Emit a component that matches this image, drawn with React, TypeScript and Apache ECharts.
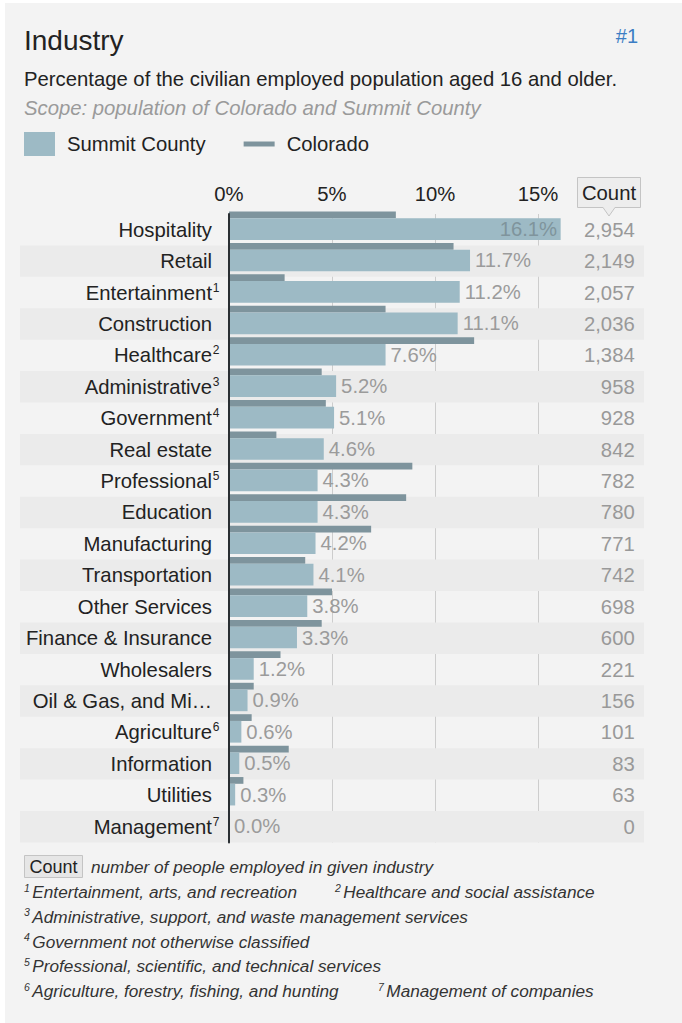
import React, { useEffect, useRef } from "react";
import * as echarts from "echarts";

const categories = [
  "Hospitality", "Retail", "Entertainment", "Construction", "Healthcare",
  "Administrative", "Government", "Real estate", "Professional", "Education",
  "Manufacturing", "Transportation", "Other Services", "Finance & Insurance",
  "Wholesalers", "Oil & Gas, and Mi…", "Agriculture", "Information", "Utilities", "Management",
];
const superscripts = ["", "", "1", "", "2", "3", "4", "", "5", "", "", "", "", "", "", "", "6", "", "", "7"];
const summitPct = [16.1, 11.7, 11.2, 11.1, 7.6, 5.2, 5.1, 4.6, 4.3, 4.3, 4.2, 4.1, 3.8, 3.3, 1.2, 0.9, 0.6, 0.5, 0.3, 0.0];
const coloradoPct = [8.1, 10.9, 2.7, 7.6, 11.9, 4.5, 4.7, 2.3, 8.9, 8.6, 6.9, 3.7, 5.0, 4.5, 2.5, 1.2, 1.1, 2.9, 0.7, 0.0];
const counts = [2954, 2149, 2057, 2036, 1384, 958, 928, 842, 782, 780, 771, 742, 698, 600, 221, 156, 101, 83, 63, 0];
const xTicks = [0, 5, 10, 15];
const footnotes = [
  [["1", "Entertainment, arts, and recreation"], ["2", "Healthcare and social assistance"]],
  [["3", "Administrative, support, and waste management services"]],
  [["4", "Government not otherwise classified"]],
  [["5", "Professional, scientific, and technical services"]],
  [["6", "Agriculture, forestry, fishing, and hunting"], ["7", "Management of companies"]],
];

const FONT = "'Liberation Sans', Arial, sans-serif";
const SUMMIT = "#9dbac5";
const COLORADO = "#7e949d";
const FS = 20.3;

export default function App() {
  const ref = useRef<HTMLDivElement>(null);
  useEffect(() => {
    if (!ref.current) return;
    const chart = echarts.init(ref.current, null, { renderer: "svg" });

    const footGraphics: any[] = [];
    footnotes.forEach((line, li) => {
      line.forEach((fn, ci) => {
        footGraphics.push({
          type: "text",
          x: ci === 0 ? 24 : li === 0 ? 335 : 378,
          y: 892 + li * 24.8,
          style: {
            text: `{s|${fn[0]}}{t|${fn[1]}}`,
            verticalAlign: "middle",
            rich: {
              s: { fontSize: 10.5, fontStyle: "italic", fill: "#333", verticalAlign: "top", lineHeight: 12, padding: [0, 2.5, 0, 0], fontFamily: FONT },
              t: { fontSize: 17.2, fontStyle: "italic", fill: "#333", lineHeight: 20, fontFamily: FONT },
            },
          },
        });
      });
    });

    const option: any = {
      animation: false,
      backgroundColor: "#ffffff",
      color: [SUMMIT, COLORADO],
      textStyle: { fontFamily: FONT },
      title: [
        { text: "Industry", left: 24, top: 26, padding: 0, textStyle: { fontSize: 28, fontWeight: "normal", color: "#222", fontFamily: FONT } },
        { text: "#1", right: 44, top: 26, padding: 0, textStyle: { fontSize: 20, fontWeight: "normal", color: "#3b7dc4", fontFamily: FONT } },
        { text: "Percentage of the civilian employed population aged 16 and older.", left: 24, top: 69, padding: 0, textStyle: { fontSize: FS, fontWeight: "normal", color: "#222", fontFamily: FONT } },
        { text: "Scope: population of Colorado and Summit County", left: 24, top: 98, padding: 0, textStyle: { fontSize: FS, fontWeight: "normal", fontStyle: "italic", color: "#9a9a9a", fontFamily: FONT } },
      ],
      legend: {
        left: 24,
        top: 132,
        padding: 0,
        itemWidth: 31,
        itemHeight: 24,
        itemGap: 38,
        textStyle: { fontSize: FS, color: "#222", padding: [0, 0, 0, 7], fontFamily: FONT },
        data: [
          { name: "Summit County", icon: "rect" },
          { name: "Colorado", icon: "path://M0,0L31,0L31,5L0,5Z" },
        ],
      },
      graphic: [
        { type: "rect", z: -10, shape: { x: 5, y: 3, width: 677, height: 1020 }, style: { fill: "#f3f3f3" } },
        {
          type: "group",
          children: [
            { type: "rect", shape: { x: 577.5, y: 177.5, width: 63, height: 30 }, style: { fill: "#ededed", stroke: "#c4c4c4", lineWidth: 1 } },
            { type: "polyline", shape: { points: [[603, 207.5], [609, 216], [615, 207.5]] }, style: { fill: "#ededed", stroke: "#c4c4c4", lineWidth: 1 } },
            { type: "rect", shape: { x: 603.5, y: 206, width: 11, height: 2 }, style: { fill: "#ededed" } },
            { type: "text", x: 609, y: 193, style: { text: "Count", fontSize: FS, fill: "#222", align: "center", verticalAlign: "middle", fontFamily: FONT } },
          ],
        },
        { type: "rect", shape: { x: 24.5, y: 855.5, width: 58, height: 22 }, style: { fill: "#e6e6e6", stroke: "#c4c4c4", lineWidth: 1 } },
        { type: "text", x: 53.5, y: 867, style: { text: "Count", fontSize: 18, fill: "#222", align: "center", verticalAlign: "middle", fontFamily: FONT } },
        { type: "text", x: 91, y: 867, style: { text: "number of people employed in given industry", fontSize: 17.2, fontStyle: "italic", fill: "#333", verticalAlign: "middle", fontFamily: FONT } },
        ...footGraphics,
      ],
      grid: { left: 229, top: 214, width: 350.2, height: 628.4, containLabel: false },
      xAxis: {
        type: "value",
        position: "top",
        min: 0,
        max: 17,
        interval: 5,
        axisLine: { show: false },
        axisTick: { show: false },
        axisLabel: {
          margin: 10,
          fontSize: FS,
          color: "#222",
          fontFamily: FONT,
          showMaxLabel: false,
          formatter: (v: number) => (xTicks.indexOf(v) >= 0 ? `${v}%` : ""),
        },
        splitLine: { show: true, showMinLine: false, showMaxLine: false, lineStyle: { color: "#cdcdcd", width: 1 } },
      },
      yAxis: [
        {
          type: "category",
          inverse: true,
          data: categories,
          axisLine: { show: true, lineStyle: { color: "#2a2f33", width: 2 } },
          axisTick: { show: false },
          axisLabel: {
            margin: 9,
            formatter: (v: string, i: number) =>
              superscripts[i] ? `{n|${v}}{s|${superscripts[i]}}` : `{n|${v}}{e| }`,
            rich: {
              n: { fontSize: FS, color: "#222", fontFamily: FONT, lineHeight: 22 },
              s: { fontSize: 12, color: "#222", fontFamily: FONT, verticalAlign: "top", lineHeight: 12, width: 8, align: "left" },
              e: { fontSize: 12, width: 8 },
            },
          },
          z: 5,
        },
        {
          type: "category",
          inverse: true,
          position: "right",
          data: categories,
          axisLine: { show: false },
          axisTick: { show: false },
          axisLabel: {
            margin: 55.5,
            align: "right",
            fontSize: FS,
            color: "#999",
            fontFamily: FONT,
            formatter: (_v: string, i: number) => counts[i].toLocaleString("en-US"),
          },
        },
      ],
      series: [
        {
          type: "custom",
          name: "bands",
          silent: true,
          z: 0,
          clip: false,
          data: categories.map((_c, i) => [0, i]),
          encode: { x: 0, y: 1 },
          renderItem: (params: any, api: any) => {
            const idx = api.value(1);
            if (idx % 2 === 0) return null;
            const p = api.coord([0, idx]);
            const band = api.size([0, 1])[1];
            return {
              type: "rect",
              shape: { x: 20, y: p[1] - band / 2, width: 624, height: band },
              style: { fill: "#ebebeb" },
            };
          },
        },
        {
          type: "custom",
          name: "Colorado",
          z: 2,
          itemStyle: { color: COLORADO },
          data: coloradoPct.map((v, i) => [v, i]),
          encode: { x: 0, y: 1 },
          renderItem: (params: any, api: any) => {
            const p = api.coord([api.value(0), api.value(1)]);
            const base = api.coord([0, api.value(1)]);
            const band = api.size([0, 1])[1];
            return {
              type: "rect",
              shape: { x: base[0], y: p[1] - band * 0.58, width: p[0] - base[0], height: band * 0.215 },
              style: { fill: COLORADO },
            };
          },
        },
        {
          type: "custom",
          name: "Summit County",
          z: 3,
          itemStyle: { color: SUMMIT },
          data: summitPct.map((v, i) => [v, i]),
          encode: { x: 0, y: 1 },
          renderItem: (params: any, api: any) => {
            const v = api.value(0);
            const p = api.coord([v, api.value(1)]);
            const base = api.coord([0, api.value(1)]);
            const band = api.size([0, 1])[1];
            const top = p[1] - band * 0.366;
            const h = band * 0.69;
            const inside = v > 15;
            return {
              type: "group",
              children: [
                { type: "rect", shape: { x: base[0], y: top, width: p[0] - base[0], height: h }, style: { fill: SUMMIT } },
                {
                  type: "text",
                  x: inside ? p[0] - 3.5 : p[0] + 5,
                  y: top + h / 2,
                  style: {
                    text: `${v.toFixed(1)}%`,
                    fontSize: FS,
                    fill: inside ? "#7f949c" : "#9b9b9b",
                    align: inside ? "right" : "left",
                    verticalAlign: "middle",
                    fontFamily: FONT,
                  },
                },
              ],
            };
          },
        },
      ],
    };
    chart.setOption(option);
    return () => chart.dispose();
  }, []);
  return <div ref={ref} style={{ position: "absolute", left: 0, top: 0, width: 682, height: 1023 }} />;
}
